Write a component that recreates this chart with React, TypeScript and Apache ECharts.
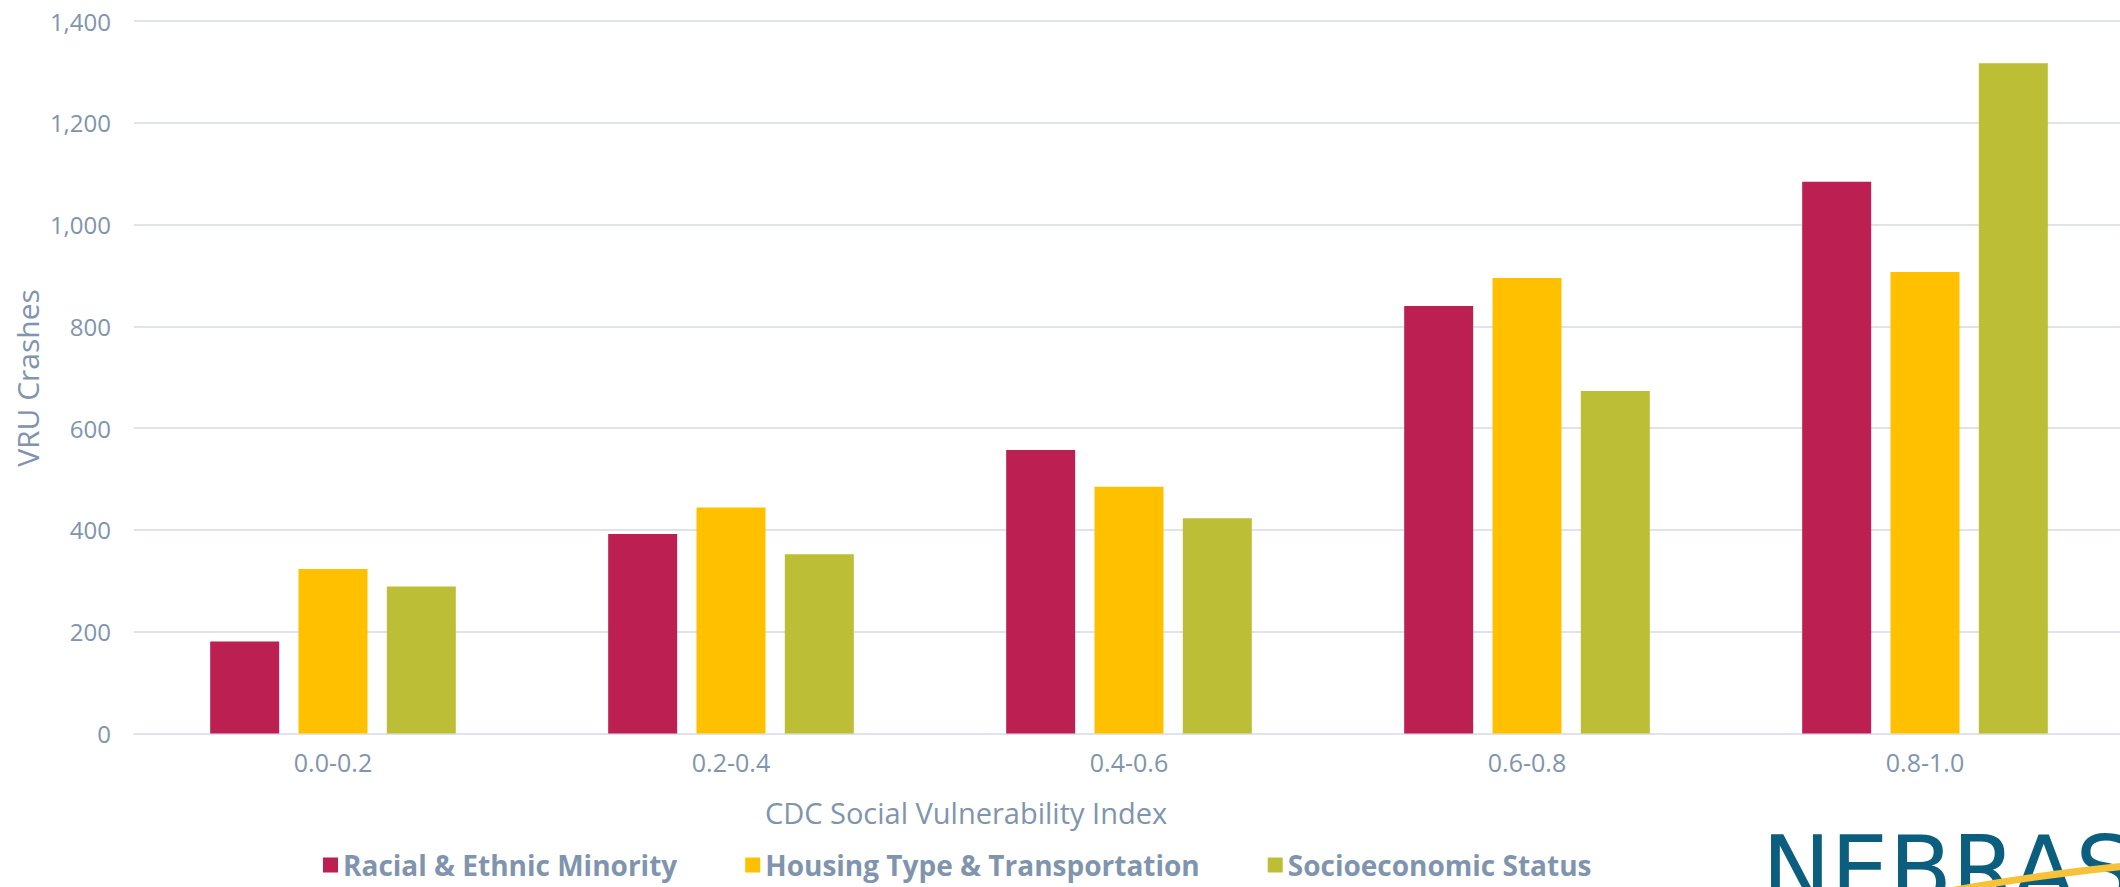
import React, { useEffect, useRef } from "react";
import * as echarts from "echarts";

// SVI bins on the x axis
const categories = ["0.0-0.2", "0.2-0.4", "0.4-0.6", "0.6-0.8", "0.8-1.0"];

// VRU crash counts per SVI theme
const racialEthnicMinority = [181, 392, 557, 840, 1084];
const housingTransportation = [323, 444, 485, 895, 907];
const socioeconomicStatus = [289, 352, 423, 673, 1317];

const seriesNames = [
  "Racial & Ethnic Minority",
  "Housing Type & Transportation",
  "Socioeconomic Status",
];
const seriesColors = ["#bc1f51", "#ffc000", "#bcbe35"];

const yTicks = { min: 0, max: 1400, interval: 200 };

const FONT = "'Open Sans', 'Noto Sans', sans-serif";
const TEXT_COLOR = "#8094ae";
const GRID_COLOR = "#e0e4ea";

export default function App() {
  const ref = useRef<HTMLDivElement>(null);

  useEffect(() => {
    if (!ref.current) return;
    const chart = echarts.init(ref.current, null, { renderer: "svg" });
    const values = [racialEthnicMinority, housingTransportation, socioeconomicStatus];

    chart.setOption({
      animation: false,
      backgroundColor: "#ffffff",
      textStyle: { fontFamily: FONT },
      grid: { left: 134, right: 1, top: 21, bottom: 153.5, containLabel: false },
      legend: {
        left: 318,
        top: 845,
        icon: "rect",
        itemWidth: 15,
        itemHeight: 15,
        itemGap: 68,
        data: seriesNames,
        textStyle: {
          color: TEXT_COLOR,
          fontFamily: FONT,
          fontWeight: "bold",
          fontSize: 28,
          lineHeight: 30,
        },
      },
      xAxis: {
        type: "category",
        data: categories,
        axisTick: { show: false },
        axisLine: { lineStyle: { color: GRID_COLOR, width: 2 } },
        axisLabel: {
          color: TEXT_COLOR,
          fontFamily: FONT,
          fontSize: 25,
          margin: 16,
        },
      },
      yAxis: {
        type: "value",
        min: yTicks.min,
        max: yTicks.max,
        interval: yTicks.interval,
        axisLine: { show: false },
        axisTick: { show: false },
        splitLine: { lineStyle: { color: GRID_COLOR, width: 2 } },
        axisLabel: {
          color: TEXT_COLOR,
          fontFamily: FONT,
          fontSize: 24,
          margin: 23,
          formatter: (v: number) => v.toLocaleString("en-US"),
        },
      },
      series: seriesNames.map((name, i) => ({
        name,
        type: "bar",
        data: values[i],
        barWidth: 69,
        barGap: "28%",
        itemStyle: { color: seriesColors[i] },
      })),
      graphic: [
        {
          type: "text",
          x: 27,
          y: 378,
          rotation: Math.PI / 2,
          style: {
            text: "VRU Crashes",
            fill: TEXT_COLOR,
            font: `30px ${FONT}`,
            align: "center",
            verticalAlign: "middle",
          },
        },
        {
          type: "text",
          x: 966,
          y: 812,
          style: {
            text: "CDC Social Vulnerability Index",
            fill: TEXT_COLOR,
            font: `29px ${FONT}`,
            align: "center",
            verticalAlign: "middle",
          },
        },
        // NEBRASKA wordmark in the lower right corner
        {
          type: "text",
          x: 1762,
          y: 824,
          style: {
            text: "NEBRASKA",
            fill: "#0b5e7e",
            font: "92px 'DejaVu Sans', sans-serif",
            align: "left",
            verticalAlign: "top",
          },
        },
        {
          type: "bezierCurve",
          shape: { x1: 1950, y1: 891, cpx1: 2030, cpy1: 876, x2: 2126, y2: 866 },
          style: { stroke: "#f6c338", lineWidth: 7, fill: "none" },
        },
      ],
    });

    return () => chart.dispose();
  }, []);

  return (
    <div
      style={{
        position: "fixed",
        left: 0,
        top: 0,
        width: 2120,
        height: 887,
        overflow: "hidden",
        background: "#ffffff",
      }}
    >
      <div ref={ref} style={{ width: 2125, height: 887 }} />
    </div>
  );
}
